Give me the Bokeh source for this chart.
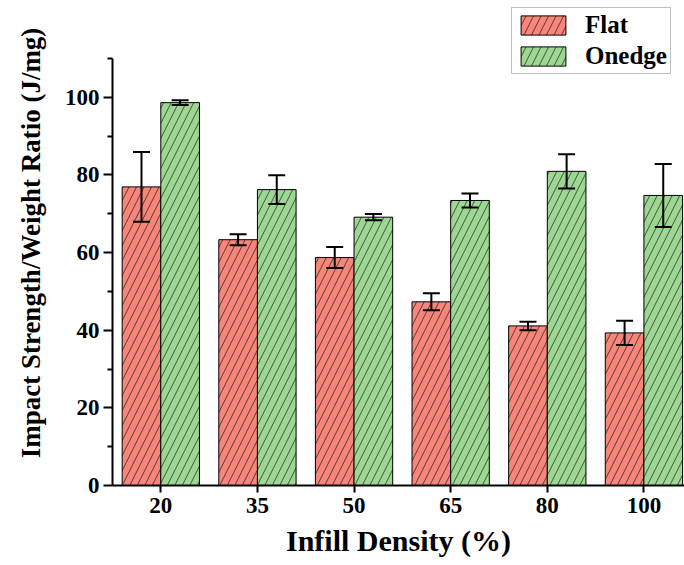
from bokeh.plotting import figure
from bokeh.models import (ColumnDataSource, Range1d, FixedTicker, Whisker, TeeHead,
                          Legend, LegendItem)
from bokeh.transform import dodge
from bokeh.embed import file_html
from bokeh.resources import INLINE

# ---- data ----
densities = ["20", "35", "50", "65", "80", "100"]
flat = [76.9, 63.3, 58.7, 47.3, 41.1, 39.3]
flat_err = [9.0, 1.4, 2.7, 2.2, 1.1, 3.1]
onedge = [98.6, 76.2, 69.1, 73.4, 80.9, 74.7]
onedge_err = [0.6, 3.7, 0.8, 1.8, 4.4, 8.1]
y_ticks = [0, 20, 40, 60, 80, 100]
y_minor = [10, 30, 50, 70, 90, 110]
series_names = ["Flat", "Onedge"]

FONT = "Liberation Serif"
RED = "#F6867A"
GREEN = "#9DD793"

idx = list(range(len(densities)))
src = ColumnDataSource(dict(
    x=idx,
    flat=flat,
    flat_up=[v + e for v, e in zip(flat, flat_err)],
    flat_lo=[v - e for v, e in zip(flat, flat_err)],
    onedge=onedge,
    onedge_up=[v + e for v, e in zip(onedge, onedge_err)],
    onedge_lo=[v - e for v, e in zip(onedge, onedge_err)],
))

p = figure(width=684, height=565,
           x_range=Range1d(-0.5, 5.42), y_range=Range1d(0, 124.9),
           output_backend="svg", toolbar_location=None,
           min_border_left=112, min_border_right=0, min_border_top=0,
           min_border_bottom=80)
p.outline_line_color = None
p.background_fill_color = "white"
p.xgrid.visible = False
p.ygrid.visible = False

bar_kw = dict(width=0.4, source=src, line_color="black", line_width=1,
              hatch_pattern="/", hatch_color="black", hatch_weight=0.7,
              hatch_scale=15, hatch_alpha=0.85)
r_flat = p.vbar(x=dodge("x", -0.2), top="flat", fill_color=RED, **bar_kw)
r_one = p.vbar(x=dodge("x", 0.2), top="onedge", fill_color=GREEN, **bar_kw)

for off, up, lo in [(-0.2, "flat_up", "flat_lo"), (0.2, "onedge_up", "onedge_lo")]:
    w = Whisker(source=src, base=dodge("x", off), upper=up, lower=lo,
                line_width=2, line_color="black", level="annotation",
                upper_head=TeeHead(size=17, line_width=2, line_color="black"),
                lower_head=TeeHead(size=17, line_width=2, line_color="black"))
    p.add_layout(w)

legend = Legend(items=[LegendItem(label=series_names[0], renderers=[r_flat]),
                       LegendItem(label=series_names[1], renderers=[r_one])],
                location=(399, 411), padding=3, spacing=3,
                glyph_width=56, glyph_height=24, label_height=24, label_standoff=14,
                label_text_font=FONT, label_text_font_style="bold",
                label_text_font_size="25px", label_text_color="black",
                border_line_color="#808080", border_line_width=1,
                background_fill_color="white", background_fill_alpha=1.0)
p.add_layout(legend)

# x axis
xa = p.xaxis[0]
xa.ticker = FixedTicker(ticks=idx)
xa.major_label_overrides = {i: d for i, d in enumerate(densities)}
xa.axis_label = "Infill Density (%)"
xa.axis_label_text_font = FONT
xa.axis_label_text_font_style = "bold"
xa.axis_label_text_font_size = "30px"
xa.axis_label_text_color = "black"
xa.axis_label_standoff = 8
xa.major_label_text_font = FONT
xa.major_label_text_font_style = "bold"
xa.major_label_text_font_size = "23px"
xa.major_label_text_color = "black"
xa.major_label_standoff = 5
xa.major_tick_in = 0
xa.major_tick_out = 7
xa.minor_tick_out = 0
xa.minor_tick_in = 0
xa.axis_line_width = 2
xa.major_tick_line_width = 2
xa.axis_line_color = "black"
xa.major_tick_line_color = "black"

# y axis
ya = p.yaxis[0]
ya.bounds = (0, 110)
ya.ticker = FixedTicker(ticks=y_ticks, minor_ticks=y_minor)
ya.axis_label = "Impact Strength/Weight Ratio (J/mg)"
ya.axis_label_text_font = FONT
ya.axis_label_text_font_style = "bold"
ya.axis_label_text_font_size = "27px"
ya.axis_label_text_color = "black"
ya.axis_label_standoff = 16
ya.major_label_text_font = FONT
ya.major_label_text_font_style = "bold"
ya.major_label_text_font_size = "23px"
ya.major_label_text_color = "black"
ya.major_label_standoff = 4
ya.major_tick_in = 0
ya.major_tick_out = 9
ya.minor_tick_in = 0
ya.minor_tick_out = 5
ya.axis_line_width = 2
ya.major_tick_line_width = 2
ya.minor_tick_line_width = 2
ya.axis_line_color = "black"
ya.major_tick_line_color = "black"
ya.minor_tick_line_color = "black"

open("out.html", "w").write(file_html(p, INLINE))
